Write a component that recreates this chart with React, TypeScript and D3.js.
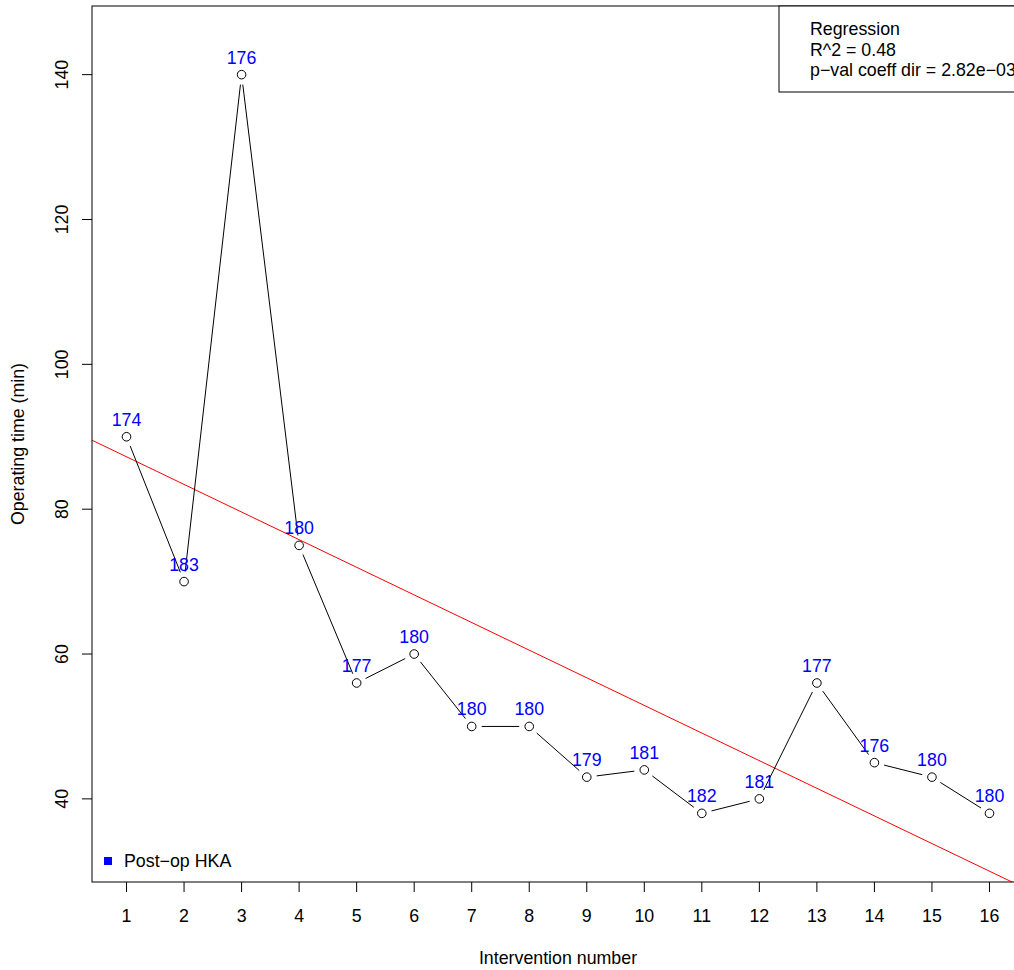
import React from "react";
import * as d3 from "d3";

const interventions = [1, 2, 3, 4, 5, 6, 7, 8, 9, 10, 11, 12, 13, 14, 15, 16];
const operatingTime = [90, 70, 140, 75, 56, 60, 50, 50, 43, 44, 38, 40, 56, 45, 43, 38];
const pointLabels = ["174", "183", "176", "180", "177", "180", "180", "180", "179", "181", "182", "181", "177", "176", "180", "180"];
const yTicks = [40, 60, 80, 100, 120, 140];
const legendLines = ["Regression", "R^2 = 0.48", "p\u2212val coeff dir = 2.82e\u221203"];
const seriesLegend = "Post\u2212op HKA";

const W = 1014;
const H = 970;
const left = 92;
const top = 6;
const bottom = 882;
const right = 1024;
const FONT = "Liberation Sans, Arial, Helvetica, sans-serif";
const FS = 17.8;

export default function App() {
  const xr = [0.4, 16.6];
  const ymin = d3.min(operatingTime)! - 5;
  const ymax = d3.max(operatingTime)! + 5;
  const ext = (ymax - ymin) * 0.04;
  const x = d3.scaleLinear().domain(xr).range([left, right]);
  const y = d3.scaleLinear().domain([ymin - ext, ymax + ext]).range([bottom, top]);

  // linear regression
  const mx = d3.mean(interventions)!;
  const my = d3.mean(operatingTime)!;
  let sxy = 0, sxx = 0;
  interventions.forEach((xi, i) => {
    sxy += (xi - mx) * (operatingTime[i] - my);
    sxx += (xi - mx) ** 2;
  });
  const slope = sxy / sxx;
  const intercept = my - slope * mx;

  const pts = interventions.map((xi, i) => [x(xi), y(operatingTime[i])]);
  const gap = 10;
  const segs = pts.slice(1).map((p, i) => {
    const a = pts[i];
    const dx = p[0] - a[0], dy = p[1] - a[1];
    const len = Math.hypot(dx, dy);
    if (len <= 2 * gap) return null;
    const ux = dx / len, uy = dy / len;
    return [a[0] + ux * gap, a[1] + uy * gap, p[0] - ux * gap, p[1] - uy * gap];
  });

  return (
    <svg width={W} height={H} style={{ position: "absolute", left: 0, top: 0, background: "#fff" }} fontFamily={FONT}>
      <defs>
        <clipPath id="plotclip">
          <rect x={left} y={top} width={right - left} height={bottom - top} />
        </clipPath>
      </defs>
      <rect x={0} y={0} width={W} height={H} fill="#fff" />
      <g clipPath="url(#plotclip)">
        <line
          x1={x(xr[0])}
          y1={y(intercept + slope * xr[0])}
          x2={x(xr[1])}
          y2={y(intercept + slope * xr[1])}
          stroke="#ff0000"
          strokeWidth={1}
        />
        {segs.map((s, i) =>
          s ? <line key={i} x1={s[0]} y1={s[1]} x2={s[2]} y2={s[3]} stroke="#000" strokeWidth={1} /> : null
        )}
        {pts.map((p, i) => (
          <circle key={i} cx={p[0]} cy={p[1]} r={4.3} fill="none" stroke="#000" strokeWidth={1} />
        ))}
        {pts.map((p, i) => (
          <text key={i} x={p[0]} y={p[1] - 11} textAnchor="middle" fontSize={FS} fill="#0000ff">
            {pointLabels[i]}
          </text>
        ))}
      </g>
      {/* plot box */}
      <rect x={left} y={top} width={right - left} height={bottom - top} fill="none" stroke="#000" strokeWidth={1} />
      {/* x axis */}
      {interventions.map((t) => (
        <g key={t}>
          <line x1={x(t)} y1={bottom} x2={x(t)} y2={bottom + 10} stroke="#000" />
          <text x={x(t)} y={bottom + 40} textAnchor="middle" fontSize={FS} fill="#000">
            {t}
          </text>
        </g>
      ))}
      {/* y axis */}
      {yTicks.map((t) => (
        <g key={t}>
          <line x1={left - 10} y1={y(t)} x2={left} y2={y(t)} stroke="#000" />
          <text
            transform={`translate(${left - 24},${y(t)}) rotate(-90)`}
            textAnchor="middle"
            fontSize={FS}
            fill="#000"
          >
            {t}
          </text>
        </g>
      ))}
      <text x={(left + right) / 2} y={964} textAnchor="middle" fontSize={FS} fill="#000">
        Intervention number
      </text>
      <text transform={`translate(24,${(top + bottom) / 2}) rotate(-90)`} textAnchor="middle" fontSize={FS} fill="#000">
        Operating time (min)
      </text>
      {/* regression legend */}
      <rect x={779} y={top} width={300} height={86} fill="#fff" stroke="#000" strokeWidth={1} />
      {legendLines.map((l, i) => (
        <text key={i} x={810} y={35 + i * 20.5} fontSize={FS} fill="#000">
          {l}
        </text>
      ))}
      {/* series legend */}
      <rect x={104} y={857} width={8} height={8} fill="#0000ff" />
      <text x={124} y={867} fontSize={FS} fill="#000">
        {seriesLegend}
      </text>
    </svg>
  );
}
